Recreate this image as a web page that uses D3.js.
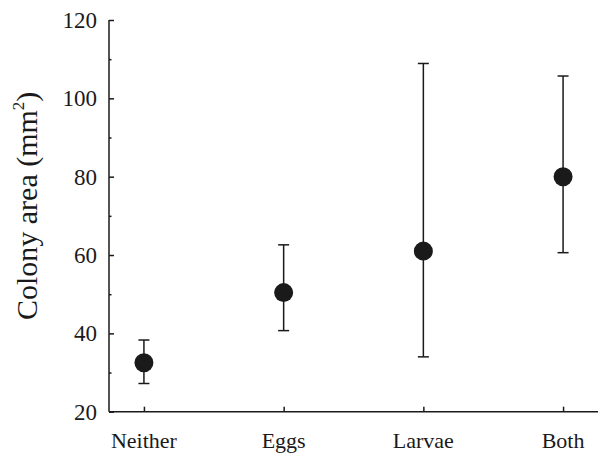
<!DOCTYPE html>
<html>
<head>
<meta charset="utf-8">
<script src="https://cdn.jsdelivr.net/npm/d3@7"></script>
<style>
  body { margin: 0; background: #fff; }
</style>
</head>
<body>
<svg id="chart" width="598" height="453" font-family="Liberation Serif, serif"></svg>
<script>
// data
const treatments = ['Neither', 'Eggs', 'Larvae', 'Both'];
const meanArea = [32.5, 50.4, 61.0, 80.0];
const upperErr = [38.3, 62.6, 108.9, 105.7];
const lowerErr = [27.2, 40.7, 34.0, 60.6];
const yTicks = [20, 40, 60, 80, 100, 120];
const yMinorTicks = [30, 50, 70, 90, 110];

const width = 598, height = 453;
const margin = { top: 20, right: 0, bottom: 42, left: 109 };

const svg = d3.select('#chart');
const ink = '#1a1a1a';

const x = d3.scalePoint()
  .domain(treatments)
  .range([margin.left, width - margin.right])
  .padding(0.25);

const y = d3.scaleLinear()
  .domain([20, 120])
  .range([height - margin.bottom + 0.7, margin.top]);

// y axis, ticks pointing inward
const yAxis = svg.append('g')
  .attr('transform', `translate(${margin.left},0)`)
  .call(d3.axisRight(y).tickValues(yTicks).tickSize(5).tickFormat(''));
yAxis.select('.domain').remove();
yAxis.selectAll('line').attr('stroke', ink).attr('stroke-width', 1.5);

svg.append('g')
  .attr('transform', `translate(${margin.left},0)`)
  .call(d3.axisRight(y).tickValues(yMinorTicks).tickSize(2.5).tickFormat(''))
  .call(g => g.select('.domain').remove())
  .selectAll('line').attr('stroke', ink).attr('stroke-width', 1.5);

svg.append('line')
  .attr('x1', margin.left).attr('x2', margin.left)
  .attr('y1', y(120)).attr('y2', y(20))
  .attr('stroke', ink).attr('stroke-width', 1.5);

svg.selectAll('.ylab')
  .data(yTicks)
  .join('text')
  .attr('class', 'ylab')
  .attr('x', margin.left - 12)
  .attr('y', d => y(d))
  .attr('dy', '0.35em')
  .attr('text-anchor', 'end')
  .attr('font-size', 23)
  .attr('fill', ink)
  .text(d => d);

// x axis
const xAxis = svg.append('g')
  .attr('transform', `translate(0,${y(20)})`)
  .call(d3.axisTop(x).tickSize(5).tickFormat('').tickSizeOuter(0));
xAxis.select('.domain').remove();
xAxis.selectAll('line').attr('stroke', ink).attr('stroke-width', 1.5);

svg.append('line')
  .attr('x1', margin.left).attr('x2', width)
  .attr('y1', y(20)).attr('y2', y(20))
  .attr('stroke', ink).attr('stroke-width', 1.5);

svg.selectAll('.xlab')
  .data(treatments)
  .join('text')
  .attr('class', 'xlab')
  .attr('x', d => x(d))
  .attr('y', y(20) + 36)
  .attr('text-anchor', 'middle')
  .attr('font-size', 22)
  .attr('fill', ink)
  .text(d => d);

// y title
const title = svg.append('text')
  .attr('transform', `translate(37,${(y(20) + y(120)) / 2 - 10}) rotate(-90)`)
  .attr('text-anchor', 'middle')
  .attr('font-size', 30)
  .attr('fill', ink);
title.append('tspan').text('Colony area (mm');
title.append('tspan').attr('font-size', 17).attr('dy', -13).text('2');
title.append('tspan').attr('dy', 13).text(')');

// error bars
const bars = svg.append('g').selectAll('g')
  .data(treatments)
  .join('g');

bars.append('line')
  .attr('x1', d => x(d)).attr('x2', d => x(d))
  .attr('y1', (d, i) => y(upperErr[i]))
  .attr('y2', (d, i) => y(lowerErr[i]))
  .attr('stroke', ink).attr('stroke-width', 1.5);

const capHalf = 5.5;
[upperErr, lowerErr].forEach(arr => {
  bars.append('line')
    .attr('x1', d => x(d) - capHalf).attr('x2', d => x(d) + capHalf)
    .attr('y1', (d, i) => y(arr[i]))
    .attr('y2', (d, i) => y(arr[i]))
    .attr('stroke', ink).attr('stroke-width', 1.5);
});

bars.append('circle')
  .attr('cx', d => x(d))
  .attr('cy', (d, i) => y(meanArea[i]))
  .attr('r', 9.5)
  .attr('fill', ink);
</script>
</body>
</html>
